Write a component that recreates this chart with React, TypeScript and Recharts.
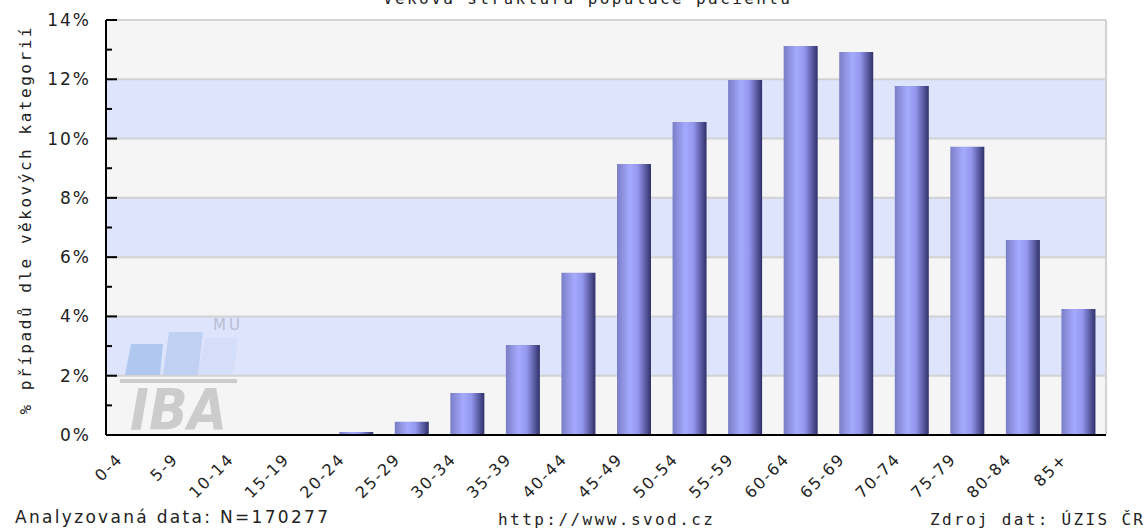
import { BarChart, Bar, XAxis, YAxis, CartesianGrid } from 'recharts';

const AGE_GROUPS = [
  '0-4', '5-9', '10-14', '15-19', '20-24', '25-29', '30-34', '35-39', '40-44',
  '45-49', '50-54', '55-59', '60-64', '65-69', '70-74', '75-79', '80-84', '85+',
];

// % případů v jednotlivých věkových kategoriích
const PERCENT = [
  0, 0, 0, 0, 0.1, 0.45, 1.42, 3.04, 5.47,
  9.14, 10.56, 11.98, 13.12, 12.92, 11.77, 9.72, 6.58, 4.25,
];

const Y_TICKS = [0, 2, 4, 6, 8, 10, 12, 14];
const Y_ALL_TICKS = [0, 1, 2, 3, 4, 5, 6, 7, 8, 9, 10, 11, 12, 13, 14];
const BOUNDARIES = [0, 1, 2, 3, 4, 5, 6, 7, 8, 9, 10, 11, 12, 13, 14, 15, 16, 17, 18];

const TITLE = 'Věková struktura populace pacientů';
const Y_TITLE = '% případů dle věkových kategorií';
const FOOT_LEFT = 'Analyzovaná data: N=170277';
const FOOT_MID = 'http://www.svod.cz';
const FOOT_RIGHT = 'Zdroj dat: ÚZIS ČR';

const MONO = '"DejaVu Sans Mono", monospace';
const SANS = '"DejaVu Sans", sans-serif';

const data = AGE_GROUPS.map((age, i) => ({ age, idx: i, pct: PERCENT[i] }));

// major ticks with labels on even values, short minor ticks on odd ones
function YTick(props: any) {
  const { x, y, payload } = props;
  const major = payload.value % 2 === 0;
  return (
    <g>
      <line x1={x} x2={x + (major ? 11 : 6)} y1={y} y2={y} stroke="#000" strokeWidth={2} />
      {major && (
        <text x={x - 15} y={y + 6} textAnchor="end" fontFamily={SANS} fontSize={17} letterSpacing={2} fill="#222">
          {payload.value}%
        </text>
      )}
    </g>
  );
}

function XTick(props: any) {
  const { x, y, payload } = props;
  const ax = x - 10;
  const ay = y + 25;
  return (
    <text
      x={ax}
      y={ay}
      transform={`rotate(-45, ${ax}, ${ay})`}
      textAnchor="end"
      fontFamily={SANS}
      fontSize={16}
      letterSpacing={1.8}
      fill="#222"
    >
      {payload.value}
    </text>
  );
}

export default function App() {
  return (
    <div style={{ position: 'absolute', left: 0, top: 0, width: 1148, height: 531, background: '#fff' }}>
      <BarChart width={1148} height={531} data={data} margin={{ top: 20, right: 42, bottom: 0, left: 0 }}>
        <defs>
          <linearGradient id="barGrad" x1="0" y1="0" x2="1" y2="0">
            <stop offset="0%" stopColor="#7a7ec6" />
            <stop offset="38%" stopColor="#a6aaff" />
            <stop offset="62%" stopColor="#9296ec" />
            <stop offset="100%" stopColor="#30306a" />
          </linearGradient>
        </defs>
        <CartesianGrid
          xAxisId="num"
          stroke="#d2d2d2"
          strokeWidth={2}
          horizontalValues={Y_TICKS}
          horizontalFill={['#f5f5f5', '#dde4fc']}
        />
        <XAxis
          xAxisId="num"
          dataKey="idx"
          type="number"
          domain={[0, 18]}
          ticks={BOUNDARIES}
          allowDataOverflow
          height={0}
          axisLine={false}
          tick={false}
          tickSize={8}
          tickLine={{ stroke: '#000', strokeWidth: 2 }}
        />
        <XAxis
          xAxisId="cat"
          dataKey="age"
          height={96}
          interval={0}
          axisLine={{ stroke: '#000', strokeWidth: 2 }}
          tickLine={false}
          tickSize={0}
          tickMargin={0}
          tick={<XTick />}
        />
        <YAxis
          type="number"
          domain={[0, 14]}
          ticks={Y_ALL_TICKS}
          interval={0}
          allowDataOverflow
          width={106}
          axisLine={{ stroke: '#000', strokeWidth: 2 }}
          tickLine={false}
          tickSize={0}
          tickMargin={0}
          tick={<YTick />}
        />
        <Bar xAxisId="cat" dataKey="pct" barSize={34} fill="url(#barGrad)" isAnimationActive={false} />
      </BarChart>

      <svg width={1148} height={531} style={{ position: 'absolute', left: 0, top: 0, pointerEvents: 'none' }}>
        {/* IBA MU watermark */}
        <g opacity={0.85}>
          <polygon points="125,375 131,344 163,344 160,375" fill="#a9c3ee" />
          <polygon points="163,375 169,332 203,332 198,375" fill="#bccdf1" />
          <polygon points="198,375 205,338 238,338 233,375" fill="#d3ddf9" />
          <rect x={120} y={379} width={117} height={4} fill="#c6c6c6" />
          <text x={130} y={430} fontFamily={SANS} fontWeight="bold" fontStyle="italic" fontSize={57} textLength={97} lengthAdjust="spacingAndGlyphs" fill="#c6c6c6">
            IBA
          </text>
          <text x={213} y={330} fontFamily={SANS} fontSize={15} textLength={27} fill="#b4b8cc">
            MU
          </text>
        </g>

        <text x={383} y={4} fontFamily={MONO} fontSize={16} textLength={407} fill="#222">
          {TITLE}
        </text>
        <text
          x={31}
          y={221}
          transform="rotate(-90, 31, 221)"
          textAnchor="middle"
          fontFamily={MONO}
          fontSize={16}
          textLength={387}
          fill="#222"
        >
          {Y_TITLE}
        </text>
        <text x={15} y={523} fontFamily={SANS} fontSize={17} textLength={313} fill="#222">
          {FOOT_LEFT}
        </text>
        <text x={498} y={525} fontFamily={MONO} fontSize={16} textLength={215} fill="#222">
          {FOOT_MID}
        </text>
        <text x={930} y={525} fontFamily={MONO} fontSize={16} textLength={213} fill="#222">
          {FOOT_RIGHT}
        </text>
      </svg>
    </div>
  );
}
